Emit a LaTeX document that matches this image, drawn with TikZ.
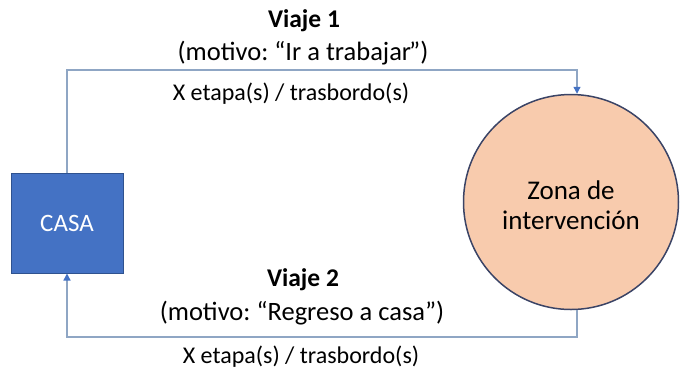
\documentclass[tikz,border=0pt]{standalone}
\usepackage{fontspec}
\setmainfont{Carlito}
\frenchspacing
\usetikzlibrary{arrows.meta}
\definecolor{boxblue}{HTML}{4472C4}
\definecolor{boxedge}{HTML}{2F528F}
\definecolor{zonefill}{HTML}{F8CBAD}
\definecolor{zoneedge}{HTML}{3B4466}
\definecolor{linecol}{HTML}{8FA6C4}
\definecolor{tipcol}{HTML}{4472C4}
\tikzset{
  casabox/.style={draw=boxedge, line width=1pt, fill=boxblue, minimum width=112pt, minimum height=100pt, inner sep=0pt, text=white, font=\fontsize{25}{30}\selectfont},
  zona/.style={draw=zoneedge, line width=1.5pt, fill=zonefill, circle, minimum size=215pt, inner sep=0pt},
  zonatxt/.style={align=center, inner sep=0pt, font=\fontsize{27}{30}\selectfont},
  conn/.style={draw=linecol, line width=1.3pt, -{Triangle[length=7pt,width=7pt,color=tipcol]}},
  title/.style={font=\fontsize{25.5}{30}\selectfont\bfseries},
  sub/.style={font=\fontsize{26.5}{30}\selectfont},
  stage/.style={font=\fontsize{24}{28}\selectfont}
}
\begin{document}
\begin{tikzpicture}[x=1pt,y=1pt]
\useasboundingbox (0,0) rectangle (681,-376);
\node[casabox] (casa) at (67,-223) {CASA};
\node[zona] (zona) at (571,-202) {};
\node[zonatxt] (zonat) at (571,-205) {Zona de\\intervención};
\coordinate (tr) at (577,-70);
\coordinate (br) at (577,-337);
\draw[conn] (casa.north) |- (tr) -- (tr |- zona.north);
\draw[conn] (br |- zona.south) -- (br) -| (casa.south);
\node[title] (v1) at (304,-21) {Viaje 1};
\node[sub] (m1) at (303,-53) {(motivo: “Ir a trabajar\kern-2pt”)};
\node[stage] (e1) at (291,-94) {X etapa(s) / trasbordo(s)};
\node[title] (v2) at (303,-280) {Viaje 2};
\node[sub] (m2) at (302,-313) {(motivo: “Regreso a casa”)};
\node[stage] (e2) at (301,-357) {X etapa(s) / trasbordo(s)};
\end{tikzpicture}
\end{document}
